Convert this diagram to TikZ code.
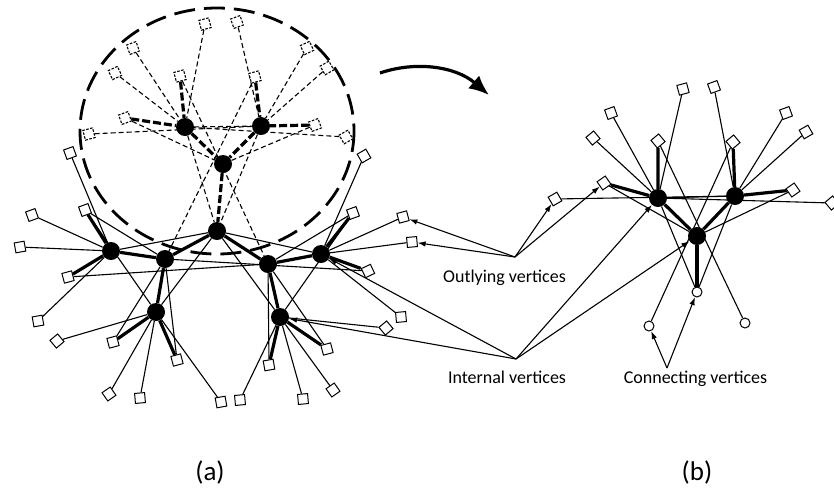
\documentclass[tikz,border=0pt]{standalone}
\usepackage{fontspec}
\setmainfont{Carlito}
\usetikzlibrary{arrows.meta}
\pgfdeclarelayer{bg}
\pgfsetlayers{bg,main}
\begin{document}
\begin{tikzpicture}[x=1pt,y=-1pt]
\tikzset{
  hub/.style={circle, fill=black, inner sep=0pt, minimum size=18pt},
  sq/.style={draw, fill=white, inner sep=0pt, minimum size=10pt, line width=1pt},
  dsq/.style={sq, line width=1.1pt, dash pattern=on 2.5pt off 1.5pt},
  con/.style={circle, draw, fill=white, inner sep=0pt, minimum size=10pt, line width=1pt},
  ln/.style={line width=1.1pt},
  tk/.style={line width=3.2pt},
  dln/.style={line width=1.1pt, dash pattern=on 5pt off 3pt},
  dtk/.style={line width=3.2pt, dash pattern=on 8pt off 3pt},
  arr/.style={line width=1.1pt, -{Latex[length=8pt,width=5.5pt]}},
  lbl/.style={font=\fontsize{18}{20}\selectfont, anchor=base, inner sep=0pt},
  captxt/.style={font=\fontsize{27}{30}\selectfont, anchor=base, inner sep=0pt}
}
\useasboundingbox (0,0) rectangle (834,491);

% big dashed ellipse
\draw[line width=2.8pt, dash pattern=on 21pt off 9pt] (217,131) ellipse [x radius=137, y radius=123];

% hubs (a)
\node[hub] (A1) at (185,127) {};
\node[hub] (A2) at (261,126) {};
\node[hub] (A3) at (223,164) {};
\node[hub] (A4) at (217,231) {};
\node[hub] (B1) at (111,251) {};
\node[hub] (B2) at (165,259) {};
\node[hub] (B3) at (268,264) {};
\node[hub] (B4) at (321,254) {};
\node[hub] (B5) at (156,312) {};
\node[hub] (B6) at (280,317) {};
% hubs (b)
\node[hub] (C1) at (658,198) {};
\node[hub] (C2) at (735,196) {};
\node[hub] (C3) at (697,236) {};
\node[con] (M) at (697,292) {};
\node[con] (L) at (649,326) {};
\node[con] (R) at (745,323) {};

% dashed squares
\foreach \n/\x/\y/\r in {d1/205/24/15, e2/237/22/20, d2/133/48/20, d3/115/73/25,
  d4/180/76/15, d5/125/118/20, d6/89/134/15, e3/307/48/25, e4/327/68/30,
  e5/255/77/15, e6/315/125/20, e7/346/137/30}
  \node[dsq, rotate=\r] (\n) at (\x,\y) {};

% solid squares (a)
\foreach \n/\x/\y/\r in {f1/32/215/20, f2/85/210/20, f3/20/247/10, f4/68/277/15,
  f5/38/321/10, f6/57/341/40, f7/113/342/15, f8/177/360/15, f9/109/394/35,
  f10/140/398/5, f11/221/402/10, f12/240/400/5, f13/269/365/10, f14/327/349/15,
  f15/303/399/5, f16/333/390/35, f17/353/213/20, f18/403/217/15, f19/412/242/5,
  f20/368/271/25, f21/401/317/5, f22/386/328/40, f23/70/153/20, f24/364/156/30}
  \node[sq, rotate=\r] (\n) at (\x,\y) {};

% squares (b)
\foreach \n/\x/\y/\r in {b1/683/89/15, b2/714/87/20, b3/611/113/20, b4/593/138/40,
  b5/658/141/40, b6/733/142/40, b7/786/113/20, b8/806/132/30, b9/604/183/35,
  b10/793/190/35, b11/555/199/30, b12/832/203/40}
  \node[sq, rotate=\r] (\n) at (\x,\y) {};

\coordinate (O) at (515,257);
\coordinate (I) at (516,359);
\coordinate (K) at (667,368);

\begin{pgfonlayer}{bg}
% dashed edges (a)
\foreach \a/\b in {d1/A1, e2/A2, d2/A1, d3/A1, d6/A2, e7/A1, e3/A2, e4/A2,
  d5/A3, e6/A3, d4/B3, e5/B2, A1/A2, A1/A4, A2/A4}
  \draw[dln] (\a) -- (\b);
\foreach \a/\b in {d4/A1, d5/A1, e5/A2, e6/A2, A1/A3, A2/A3, A3/A4}
  \draw[dtk] (\a) -- (\b);
% solid edges (a)
\foreach \a/\b in {B1/B2, B2/A4, A4/B3, B3/B4, B2/B5, B3/B6, f2/B1, f4/B1,
  f7/B5, f8/B5, f13/B6, f14/B6, f17/B4, f20/B4}
  \draw[tk] (\a) -- (\b);
\foreach \a/\b in {f1/B1, f3/B1, f5/B1, f23/B1, f2/B2, f4/B3, f20/B2, f2/B5,
  B5/f11, f6/B5, f9/B5, f10/B5, f8/B2, f7/B2, B5/A4, B1/A4, A4/B4, A4/B6,
  f13/B3, f14/B3, f12/B6, f15/B6, f16/B6, f22/B6, f17/B6, f17/B3, f24/B4,
  f18/B4, f19/B4, f21/B4}
  \draw[ln] (\a) -- (\b);
% edges (b)
\foreach \a/\b in {b1/C1, b2/C2, b3/C1, b4/C1, b11/C2, b12/C1, b7/C2, b8/C2,
  b9/C3, b10/C3, b5/R, b6/L, C1/C2, C1/M, C2/M}
  \draw[ln] (\a) -- (\b);
\foreach \a/\b in {b5/C1, b9/C1, b6/C2, b10/C2, C1/C3, C2/C3, C3/M}
  \draw[tk] (\a) -- (\b);
% pointer arrows
\foreach \t in {f18, f19, b11, b9} \draw[arr] (O) -- (\t);
\foreach \t in {B4, B6, C1, C3} \draw[arr] (I) -- (\t);
\foreach \t in {L, M} \draw[arr] (K) -- (\t);
\end{pgfonlayer}

% curved arrow
\coordinate (ca) at (380,73);
\coordinate (cb) at (489,95);
\draw[line width=3.2pt, -{Latex[length=20pt,width=17pt]}] (ca) .. controls (415,61) and (455,66) .. (cb);

% labels
\node[lbl] (tout) at (504.5,282) {Outlying vertices};
\node[lbl] (tint) at (507,383) {Internal vertices};
\node[lbl] (tcon) at (695.5,383) {Connecting vertices};
\node[captxt] (ta) at (210,480) {(a)};
\node[captxt] (tb) at (697,480) {(b)};
\end{tikzpicture}
\end{document}
